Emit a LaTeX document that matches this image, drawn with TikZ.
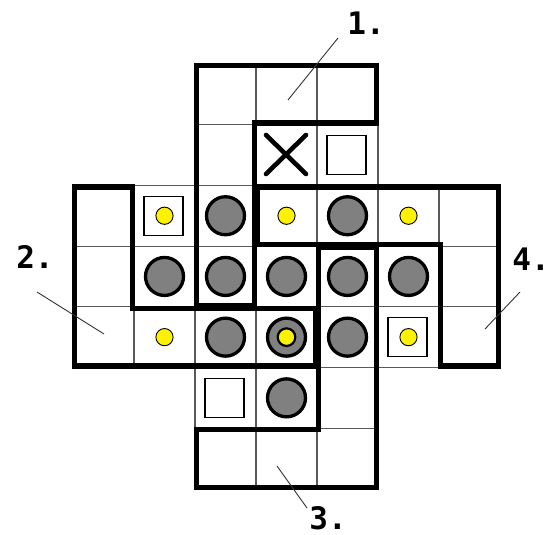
\documentclass[tikz,border=0pt]{standalone}
\usepackage{fontspec}
\setmonofont{DejaVu Sans Mono}
\begin{document}
\begin{tikzpicture}[x=1pt,y=-1pt,
  thincell/.style={draw=black!65, line width=1.1pt},
  piece/.style={draw=black, line width=5.5pt, line join=miter},
  disc/.style={fill=black!50, draw=black, line width=3.3pt},
  dot/.style={fill=yellow, draw=black, line width=0.9pt},
  bigdot/.style={fill=yellow, draw=black, line width=2.2pt},
  goalbox/.style={draw=black, line width=1.1pt},
  xmark/.style={draw=black, line width=4.6pt, line cap=round},
  leader/.style={draw=black!80, line width=0.9pt},
  lbl/.style={font=\ttfamily\bfseries\fontsize{31}{31}\selectfont, inner sep=0pt, text depth=0pt, text height=22pt, anchor=base}]
\useasboundingbox[fill=white] (0,0) rectangle (552,535);
% thin cell grid
\foreach \j in {0,1,5,6}{\foreach \i in {2,3,4}{
  \draw[thincell] (73+61*\i,64+60.7*\j) rectangle (134+61*\i,124.7+60.7*\j);}}
\foreach \j in {2,3,4}{\foreach \i in {0,...,6}{
  \draw[thincell] (73+61*\i,64+60.7*\j) rectangle (134+61*\i,124.7+60.7*\j);}}
% goal boxes
\foreach \i/\j in {1/2,4/1,5/4,2/5}{
  \draw[goalbox] (103.5+61*\i-20.5,94.35+60.7*\j-19.5) rectangle ++(39,39);}
% gray discs
\foreach \i/\j in {2/2,4/2,1/3,2/3,3/3,4/3,5/3,2/4,3/4,4/4,3/5}{
  \draw[disc] (103.5+61*\i,94.35+60.7*\j) circle (19pt);}
% yellow dots
\foreach \i/\j in {1/2,3/2,5/2,1/4,5/4}{
  \draw[dot] (103.5+61*\i,94.35+60.7*\j) circle (8.6pt);}
\draw[bigdot] (286.5,337.15) circle (8.8pt);
% X mark
\draw[xmark] (266,135) -- (306,174);
\draw[xmark] (266,174) -- (306,135);
% pieces
\draw[piece] (196.5,65.5) -- (376.5,65.5) -- (376.5,123.2) -- (254.5,123.2) -- (254.5,305.3) -- (196.5,305.3) -- cycle;
\draw[piece] (74.5,186.9) -- (132.5,186.9) -- (132.5,308.3) -- (315.5,308.3) -- (315.5,366) -- (74.5,366) -- cycle;
\draw[piece] (318.5,247.6) -- (376.5,247.6) -- (376.5,487.4) -- (196.5,487.4) -- (196.5,429.7) -- (318.5,429.7) -- cycle;
\draw[piece] (257.5,186.9) -- (498.5,186.9) -- (498.5,366) -- (440.5,366) -- (440.5,244.6) -- (257.5,244.6) -- cycle;
% labels
\node[lbl] (l1) at (366,35) {1.};
\node[lbl] (l2) at (35,268) {2.};
\node[lbl] (l3) at (328,529) {3.};
\node[lbl] (l4) at (531,270) {4.};
% leader lines
\coordinate (a1) at (288,100); \coordinate (b1) at (338,38);
\coordinate (a2) at (104,334); \coordinate (b2) at (37,292);
\coordinate (a3) at (277,466); \coordinate (b3) at (307,508);
\coordinate (a4) at (485,329); \coordinate (b4) at (520,292);
\draw[leader] (a1) -- (b1);
\draw[leader] (a2) -- (b2);
\draw[leader] (a3) -- (b3);
\draw[leader] (a4) -- (b4);
\end{tikzpicture}
\end{document}
